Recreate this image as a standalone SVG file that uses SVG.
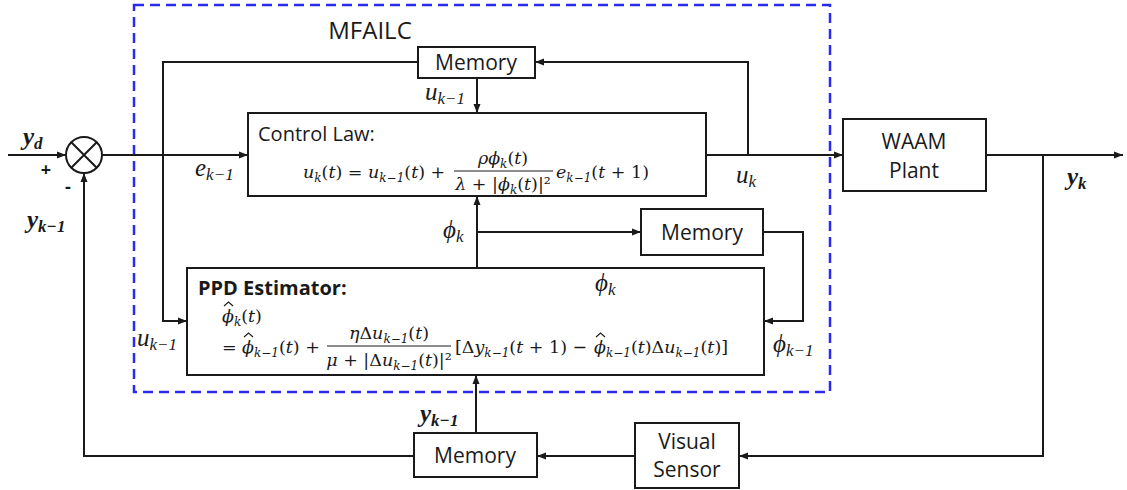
<svg xmlns="http://www.w3.org/2000/svg" width="1127" height="490" viewBox="0 0 1127 490">
<defs>
<marker id="ah" markerWidth="9" markerHeight="8" refX="9" refY="4" orient="auto" markerUnits="userSpaceOnUse"><path d="M0,0.5 L9,4 L0,7.5 z" fill="#1a1a1a"/></marker>
<style>
.box{fill:#fff;stroke:#1a1a1a;stroke-width:2}
.ln{fill:none;stroke:#1a1a1a;stroke-width:2}
.hat{fill:none;stroke:#1a1a1a;stroke-width:1.1}
.t{font-family:"Open Sans","Liberation Sans",sans-serif;font-size:21px;fill:#1a1a1a;text-anchor:middle}
.m{font-family:"DejaVu Serif","Liberation Serif",serif;font-size:17.5px;fill:#1a1a1a}
.i{font-style:italic}
.s{font-size:12px;font-style:italic}
.lb{font-family:"Liberation Serif","DejaVu Serif",serif;font-size:25px;font-style:italic;fill:#1a1a1a}
.ls{font-size:17px}
.bd{font-weight:bold}
</style>
</defs>
<rect id="mfailc" x="134" y="5" width="696" height="387" fill="none" stroke="#2a2af0" stroke-width="2.5" stroke-dasharray="10,6"/>
<text x="370" y="39" class="t" style="font-size:24px">MFAILC</text>

<g id="connectors">
<path class="ln" d="M8,155 H66" marker-end="url(#ah)"/>
<path class="ln" d="M102,155 H248" marker-end="url(#ah)"/>
<path class="ln" d="M414,456 H84 V173" marker-end="url(#ah)"/>
<path class="ln" d="M418,62 H163 V321 H187" marker-end="url(#ah)"/>
<path class="ln" d="M477,78 V113" marker-end="url(#ah)"/>
<path class="ln" d="M706,155 H843" marker-end="url(#ah)"/>
<path class="ln" d="M748,155 V62 H535" marker-end="url(#ah)"/>
<path class="ln" d="M986,155 H1123" marker-end="url(#ah)"/>
<path class="ln" d="M1043,155 V456 H739" marker-end="url(#ah)"/>
<path class="ln" d="M635,456 H537" marker-end="url(#ah)"/>
<path class="ln" d="M476,433 V375" marker-end="url(#ah)"/>
<path class="ln" d="M477,268 V196" marker-end="url(#ah)"/>
<path class="ln" d="M477,232 H641" marker-end="url(#ah)"/>
<path class="ln" d="M763,232 H803 V321 H764" marker-end="url(#ah)"/>
</g>

<g id="sum">
<circle cx="84" cy="155" r="18" class="box"/>
<path class="ln" d="M71.3,142.3 L96.7,167.7 M96.7,142.3 L71.3,167.7"/>
<text x="46" y="176" class="t bd" style="font-size:18px">+</text>
<text x="68" y="193" class="t bd" style="font-size:18px">-</text>
</g>

<g id="mem-top">
<rect x="418" y="47" width="117" height="31" class="box"/>
<text x="476" y="70" class="t">Memory</text>
</g>

<g id="control-law">
<rect x="248" y="113" width="458" height="83" class="box"/>
<text x="258" y="141" class="t" style="text-anchor:start;font-size:20px">Control Law:</text>
<text x="303" y="178" class="m"><tspan class="i">u</tspan><tspan class="s" dy="4">k</tspan><tspan dy="-4">(</tspan><tspan class="i">t</tspan>) = <tspan class="i">u</tspan><tspan class="s" dy="4">k−1</tspan><tspan dy="-4">(</tspan><tspan class="i">t</tspan>) +</text>
<text x="503" y="164" class="m" text-anchor="middle"><tspan class="i">ρϕ</tspan><tspan class="s" dy="4">k</tspan><tspan dy="-4">(</tspan><tspan class="i">t</tspan>)</text>
<line x1="454" y1="171" x2="553" y2="171" stroke="#1a1a1a" stroke-width="1.2"/>
<text x="503" y="190" class="m" text-anchor="middle"><tspan class="i">λ</tspan> + |<tspan class="i">ϕ</tspan><tspan class="s" dy="4">k</tspan><tspan dy="-4">(</tspan><tspan class="i">t</tspan>)|²</text>
<text x="556" y="178" class="m"><tspan class="i">e</tspan><tspan class="s" dy="4">k−1</tspan><tspan dy="-4">(</tspan><tspan class="i">t</tspan> + 1)</text>
</g>

<g id="mem-mid">
<rect x="641" y="209" width="122" height="46" class="box"/>
<text x="702" y="240" class="t">Memory</text>
</g>

<g id="ppd">
<rect x="187" y="268" width="577" height="107" class="box"/>
<text x="198" y="295" class="t bd" style="text-anchor:start;font-size:20px">PPD Estimator:</text>
<text x="222" y="322" class="m"><tspan class="i">ϕ</tspan><tspan class="s" dy="4">k</tspan><tspan dy="-4">(</tspan><tspan class="i">t</tspan>)</text>
<path class="hat" d="M224,306 L228.5,302 L233,306"/>
<text x="222" y="353" class="m">=</text>
<text x="242" y="353" class="m"><tspan class="i">ϕ</tspan><tspan class="s" dy="4">k−1</tspan><tspan dy="-4">(</tspan><tspan class="i">t</tspan>) +</text>
<path class="hat" d="M244,337 L248.5,333 L253,337"/>
<text x="389" y="339" class="m" text-anchor="middle"><tspan class="i">η</tspan>Δ<tspan class="i">u</tspan><tspan class="s" dy="4">k−1</tspan><tspan dy="-4">(</tspan><tspan class="i">t</tspan>)</text>
<line x1="327" y1="346" x2="451" y2="346" stroke="#1a1a1a" stroke-width="1.2"/>
<text x="389" y="366" class="m" text-anchor="middle"><tspan class="i">μ</tspan> + |Δ<tspan class="i">u</tspan><tspan class="s" dy="4">k−1</tspan><tspan dy="-4">(</tspan><tspan class="i">t</tspan>)|²</text>
<text x="455" y="353" class="m">[Δ<tspan class="i">y</tspan><tspan class="s" dy="4">k−1</tspan><tspan dy="-4">(</tspan><tspan class="i">t</tspan> + 1) −</text>
<text x="594" y="353" class="m"><tspan class="i">ϕ</tspan><tspan class="s" dy="4">k−1</tspan><tspan dy="-4">(</tspan><tspan class="i">t</tspan>)Δ<tspan class="i">u</tspan><tspan class="s" dy="4">k−1</tspan><tspan dy="-4">(</tspan><tspan class="i">t</tspan>)]</text>
<path class="hat" d="M596,337 L600.5,333 L605,337"/>
</g>

<g id="waam">
<rect x="843" y="119" width="143" height="72" class="box"/>
<text x="914" y="149" class="t">WAAM</text>
<text x="914" y="178" class="t">Plant</text>
</g>

<g id="mem-bot">
<rect x="414" y="433" width="123" height="44" class="box"/>
<text x="475" y="463" class="t">Memory</text>
</g>

<g id="sensor">
<rect x="635" y="423" width="104" height="65" class="box"/>
<text x="687" y="449" class="t">Visual</text>
<text x="687" y="477" class="t">Sensor</text>
</g>

<g id="labels">
<text x="23" y="145" class="lb bd">y<tspan class="ls" dy="4">d</tspan></text>
<text x="27" y="228" class="lb bd">y<tspan class="ls" dy="4">k−1</tspan></text>
<text x="420" y="422" class="lb bd">y<tspan class="ls" dy="4">k−1</tspan></text>
<text x="1067" y="185" class="lb bd">y<tspan class="ls" dy="4">k</tspan></text>
<text x="195" y="176" class="lb">e<tspan class="ls" dy="4">k−1</tspan></text>
<text x="425" y="100" class="lb">u<tspan class="ls" dy="4">k−1</tspan></text>
<text x="137" y="346" class="lb">u<tspan class="ls" dy="4">k−1</tspan></text>
<text x="736" y="183" class="lb">u<tspan class="ls" dy="4">k</tspan></text>
<text x="443" y="238" class="lb">ϕ<tspan class="ls" dy="4">k</tspan></text>
<text x="595" y="291" class="lb">ϕ<tspan class="ls" dy="4">k</tspan></text>
<text x="773" y="352" class="lb">ϕ<tspan class="ls" dy="4">k−1</tspan></text>
</g>
</svg>
